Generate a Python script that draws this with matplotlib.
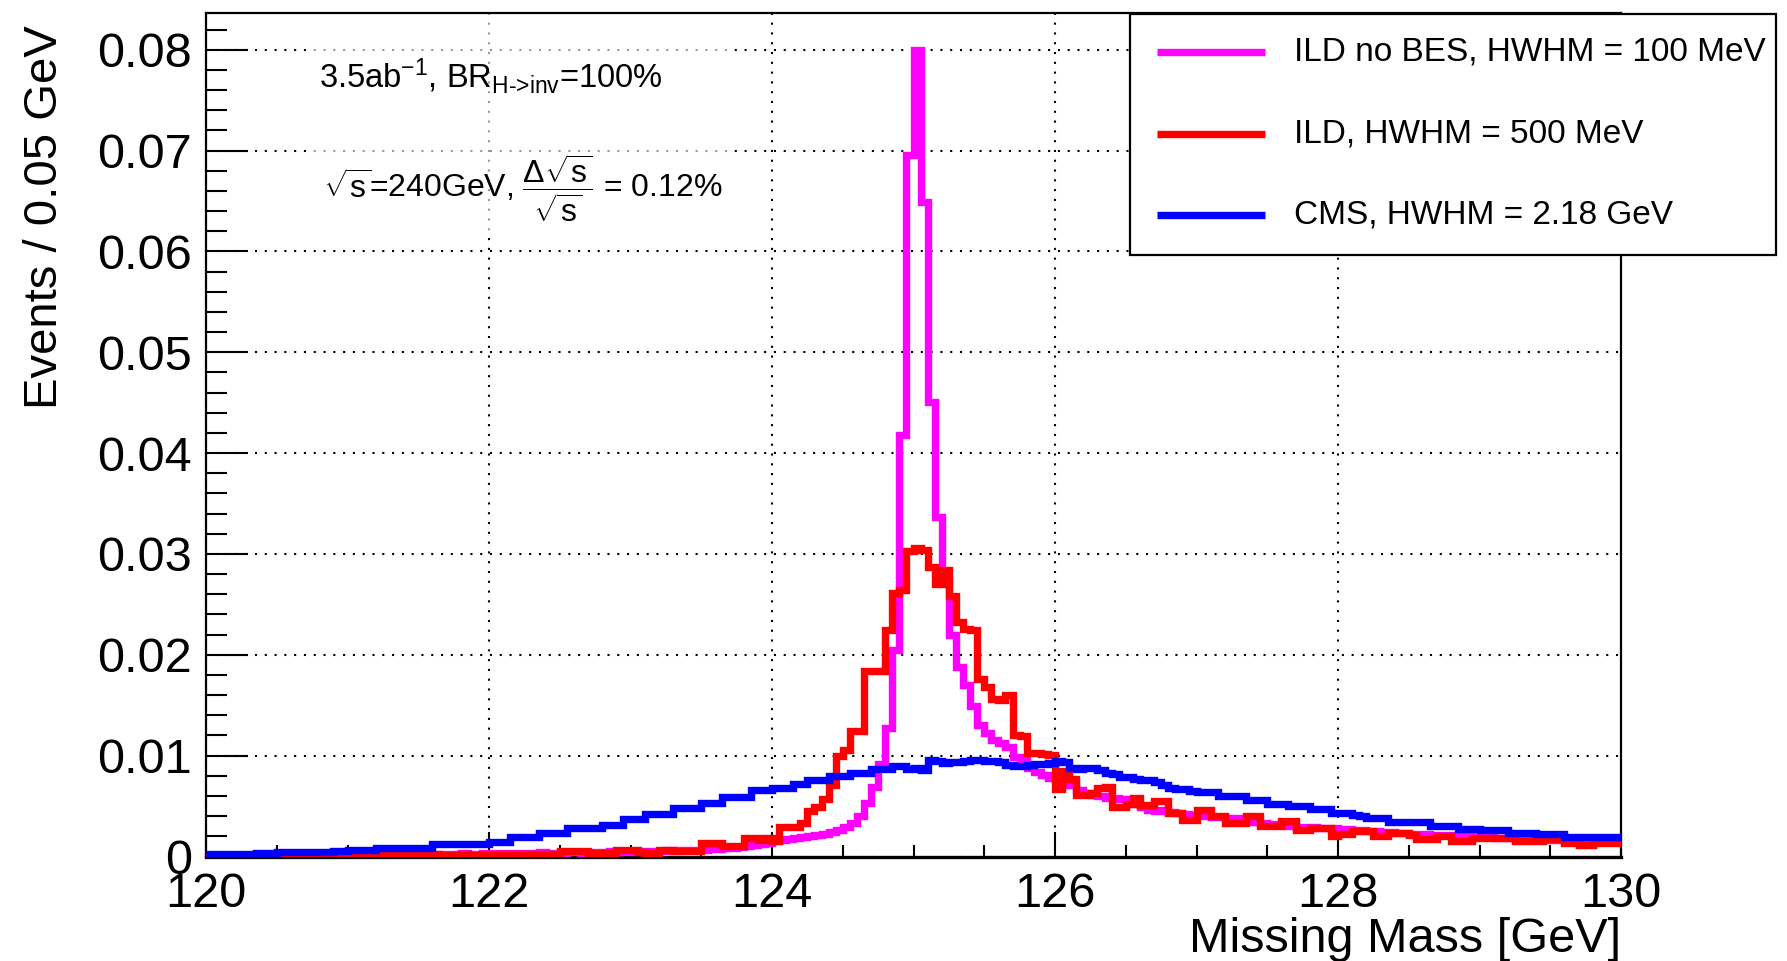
import numpy as np
import matplotlib
matplotlib.use("Agg")
import matplotlib.pyplot as plt
from matplotlib.patches import Rectangle
from matplotlib.lines import Line2D
from matplotlib.ticker import MultipleLocator, FuncFormatter

plt.rcParams['font.family'] = ['Liberation Sans', 'DejaVu Sans']
plt.rcParams['mathtext.fontset'] = 'custom'
plt.rcParams['mathtext.rm'] = 'Liberation Sans'
plt.rcParams['mathtext.it'] = 'Liberation Sans:italic'
plt.rcParams['mathtext.bf'] = 'Liberation Sans:bold'
plt.rcParams['mathtext.sf'] = 'Liberation Sans'

# binning : 120 -> 130 GeV, 0.05 GeV per bin (200 bins)
x_min, x_max, bin_w = 120.0, 130.0, 0.05

# ILD no BES (magenta), one row = 0.5 GeV
ild_nobes = [
    0.0000, 0.0000, 0.0001, 0.0000, 0.0000, 0.0001, 0.0000, 0.0001, 0.0001, 0.0000,
    0.0001, 0.0001, 0.0000, 0.0001, 0.0001, 0.0001, 0.0001, 0.0000, 0.0001, 0.0001,
    0.0001, 0.0001, 0.0001, 0.0002, 0.0001, 0.0001, 0.0002, 0.0001, 0.0002, 0.0002,
    0.0002, 0.0001, 0.0002, 0.0002, 0.0002, 0.0002, 0.0003, 0.0002, 0.0002, 0.0003,
    0.0002, 0.0003, 0.0003, 0.0002, 0.0003, 0.0003, 0.0003, 0.0004, 0.0003, 0.0003,
    0.0003, 0.0004, 0.0004, 0.0003, 0.0004, 0.0004, 0.0004, 0.0005, 0.0004, 0.0004,
    0.0005, 0.0004, 0.0005, 0.0005, 0.0005, 0.0006, 0.0005, 0.0006, 0.0006, 0.0006,
    0.0006, 0.0007, 0.0007, 0.0008, 0.0008, 0.0009, 0.0010, 0.0011, 0.0012, 0.0013,
    0.0015, 0.0016, 0.0017, 0.0018, 0.0019, 0.0020, 0.0021, 0.0022, 0.0024, 0.0026,
    0.0029, 0.0033, 0.0040, 0.0053, 0.0069, 0.0092, 0.0127, 0.0205, 0.0418, 0.0696,
    0.0800, 0.0649, 0.0451, 0.0337, 0.0275, 0.0220, 0.0188, 0.0170, 0.0149, 0.0130,
    0.0122, 0.0116, 0.0113, 0.0109, 0.0099, 0.0096, 0.0088, 0.0084, 0.0081, 0.0078,
    0.0076, 0.0073, 0.0071, 0.0066, 0.0063, 0.0061, 0.0060, 0.0058, 0.0058, 0.0057,
    0.0055, 0.0052, 0.0049, 0.0046, 0.0045, 0.0046, 0.0044, 0.0043, 0.0042, 0.0041,
    0.0041, 0.0040, 0.0039, 0.0039, 0.0038, 0.0038, 0.0037, 0.0035, 0.0034, 0.0033,
    0.0032, 0.0032, 0.0031, 0.0030, 0.0029, 0.0029, 0.0029, 0.0028, 0.0028, 0.0028,
    0.0027, 0.0027, 0.0026, 0.0026, 0.0025, 0.0025, 0.0024, 0.0024, 0.0023, 0.0023,
    0.0022, 0.0022, 0.0022, 0.0021, 0.0021, 0.0021, 0.0020, 0.0020, 0.0020, 0.0019,
    0.0019, 0.0019, 0.0018, 0.0018, 0.0018, 0.0017, 0.0017, 0.0017, 0.0017, 0.0016,
    0.0016, 0.0016, 0.0016, 0.0015, 0.0015, 0.0015, 0.0015, 0.0014, 0.0014, 0.0014,
]

# ILD (red)
ild = [
    0.0000, 0.0000, 0.0000, 0.0001, 0.0000, 0.0000, 0.0000, 0.0001, 0.0000, 0.0000,
    0.0000, 0.0001, 0.0000, 0.0000, 0.0001, 0.0000, 0.0001, 0.0000, 0.0001, 0.0000,
    0.0001, 0.0000, 0.0001, 0.0001, 0.0000, 0.0001, 0.0001, 0.0001, 0.0000, 0.0001,
    0.0001, 0.0001, 0.0002, 0.0001, 0.0001, 0.0001, 0.0002, 0.0001, 0.0001, 0.0002,
    0.0001, 0.0002, 0.0001, 0.0002, 0.0002, 0.0001, 0.0002, 0.0002, 0.0001, 0.0002,
    0.0005, 0.0005, 0.0005, 0.0005, 0.0003, 0.0003, 0.0003, 0.0003, 0.0006, 0.0006,
    0.0006, 0.0004, 0.0003, 0.0003, 0.0006, 0.0006, 0.0005, 0.0005, 0.0005, 0.0005,
    0.0013, 0.0013, 0.0013, 0.0010, 0.0010, 0.0010, 0.0018, 0.0018, 0.0016, 0.0018,
    0.0015, 0.0029, 0.0029, 0.0029, 0.0033, 0.0045, 0.0049, 0.0057, 0.0071, 0.0100,
    0.0106, 0.0124, 0.0124, 0.0184, 0.0184, 0.0184, 0.0225, 0.0261, 0.0264, 0.0303,
    0.0306, 0.0304, 0.0287, 0.0270, 0.0284, 0.0258, 0.0233, 0.0226, 0.0225, 0.0176,
    0.0168, 0.0156, 0.0155, 0.0160, 0.0120, 0.0119, 0.0103, 0.0103, 0.0102, 0.0101,
    0.0067, 0.0085, 0.0077, 0.0061, 0.0061, 0.0063, 0.0068, 0.0069, 0.0049, 0.0049,
    0.0052, 0.0058, 0.0051, 0.0051, 0.0055, 0.0055, 0.0043, 0.0043, 0.0036, 0.0036,
    0.0046, 0.0046, 0.0040, 0.0040, 0.0033, 0.0033, 0.0033, 0.0040, 0.0040, 0.0030,
    0.0030, 0.0030, 0.0035, 0.0035, 0.0026, 0.0026, 0.0028, 0.0028, 0.0028, 0.0020,
    0.0022, 0.0022, 0.0025, 0.0025, 0.0025, 0.0020, 0.0020, 0.0023, 0.0023, 0.0023,
    0.0021, 0.0017, 0.0017, 0.0017, 0.0020, 0.0020, 0.0015, 0.0015, 0.0015, 0.0018,
    0.0018, 0.0018, 0.0018, 0.0018, 0.0018, 0.0015, 0.0015, 0.0015, 0.0015, 0.0017,
    0.0017, 0.0017, 0.0013, 0.0013, 0.0011, 0.0011, 0.0013, 0.0013, 0.0013, 0.0013,
]

# CMS (blue)
cms = [
    0.0002, 0.0002, 0.0002, 0.0002, 0.0002, 0.0002, 0.0002, 0.0003, 0.0003, 0.0003,
    0.0004, 0.0004, 0.0004, 0.0004, 0.0004, 0.0004, 0.0004, 0.0004, 0.0005, 0.0005,
    0.0006, 0.0006, 0.0006, 0.0006, 0.0008, 0.0008, 0.0008, 0.0008, 0.0008, 0.0008,
    0.0008, 0.0008, 0.0012, 0.0012, 0.0012, 0.0012, 0.0012, 0.0012, 0.0012, 0.0012,
    0.0014, 0.0014, 0.0014, 0.0019, 0.0019, 0.0019, 0.0019, 0.0023, 0.0023, 0.0023,
    0.0023, 0.0028, 0.0028, 0.0028, 0.0028, 0.0028, 0.0031, 0.0031, 0.0031, 0.0037,
    0.0037, 0.0037, 0.0042, 0.0042, 0.0042, 0.0042, 0.0048, 0.0048, 0.0048, 0.0048,
    0.0053, 0.0053, 0.0053, 0.0059, 0.0059, 0.0059, 0.0059, 0.0066, 0.0066, 0.0066,
    0.0068, 0.0068, 0.0068, 0.0072, 0.0072, 0.0076, 0.0076, 0.0076, 0.0080, 0.0080,
    0.0080, 0.0083, 0.0083, 0.0083, 0.0087, 0.0087, 0.0087, 0.0090, 0.0090, 0.0087,
    0.0088, 0.0086, 0.0096, 0.0095, 0.0093, 0.0094, 0.0094, 0.0095, 0.0096, 0.0096,
    0.0095, 0.0095, 0.0094, 0.0091, 0.0090, 0.0090, 0.0091, 0.0092, 0.0092, 0.0093,
    0.0095, 0.0094, 0.0088, 0.0087, 0.0088, 0.0088, 0.0086, 0.0083, 0.0082, 0.0079,
    0.0079, 0.0077, 0.0076, 0.0076, 0.0074, 0.0071, 0.0068, 0.0067, 0.0067, 0.0065,
    0.0064, 0.0064, 0.0064, 0.0060, 0.0060, 0.0060, 0.0060, 0.0056, 0.0056, 0.0056,
    0.0052, 0.0052, 0.0052, 0.0050, 0.0050, 0.0050, 0.0047, 0.0047, 0.0047, 0.0043,
    0.0043, 0.0043, 0.0041, 0.0040, 0.0038, 0.0038, 0.0038, 0.0034, 0.0034, 0.0034,
    0.0034, 0.0034, 0.0034, 0.0030, 0.0030, 0.0030, 0.0030, 0.0027, 0.0027, 0.0027,
    0.0026, 0.0026, 0.0026, 0.0026, 0.0023, 0.0023, 0.0023, 0.0023, 0.0022, 0.0022,
    0.0022, 0.0022, 0.0019, 0.0019, 0.0019, 0.0019, 0.0019, 0.0019, 0.0019, 0.0019,
]

labels = ['ILD no BES, HWHM = 100 MeV', 'ILD, HWHM = 500 MeV', 'CMS, HWHM = 2.18 GeV']
colors = ['#ff00ff', '#ff0000', '#0000ff']
x_ticks = [120, 122, 124, 126, 128, 130]
y_ticks = [0, 0.01, 0.02, 0.03, 0.04, 0.05, 0.06, 0.07, 0.08]

W, H = 1787, 961
fig = plt.figure(figsize=(W / 100, H / 100), dpi=100)

# axes frame in pixels
ax_l, ax_r, ax_t, ax_b = 206, 1621, 12.7, 856.5
ax = fig.add_axes([ax_l / W, 1 - ax_b / H, (ax_r - ax_l) / W, (ax_b - ax_t) / H])

edges = x_min + bin_w * np.arange(len(cms) + 1)
lw = 5.3
for vals, col, z in zip([ild_nobes, ild, cms], colors, [3, 4, 5]):
    ax.stairs(vals, edges, baseline=None, color=col, linewidth=lw,
              joinstyle='miter', zorder=z)

ax.set_xlim(x_min, x_max)
ax.set_ylim(0, 0.08367)

ax.set_xticks(x_ticks)
ax.set_yticks(y_ticks)
ax.xaxis.set_minor_locator(MultipleLocator(0.5))
ax.yaxis.set_minor_locator(MultipleLocator(0.002))
ax.yaxis.set_major_formatter(FuncFormatter(lambda v, p: '0' if v == 0 else f'{v:.2f}'))

ax.tick_params(which='both', direction='in', top=False, right=False, width=1.5)
ax.tick_params(axis='x', which='major', length=18, labelsize=35, pad=11)
ax.tick_params(axis='x', which='minor', length=9)
ax.tick_params(axis='y', which='major', length=30, labelsize=35, pad=10)
ax.tick_params(axis='y', which='minor', length=15)

for sp in ax.spines.values():
    sp.set_linewidth(1.6)
ax.spines['bottom'].set_linewidth(2.4)

ax.set_axisbelow(True)
ax.grid(True, which='major', color='black', linestyle=(0, (1, 3.7)), linewidth=1.5)

# light box behind the annotation text
ax.add_patch(Rectangle(((307 - ax_l) / (ax_r - ax_l), (ax_b - 235) / (ax_b - ax_t)),
                       (733 - 307) / (ax_r - ax_l), (235 - ax_t) / (ax_b - ax_t),
                       transform=ax.transAxes, facecolor='white', edgecolor='none',
                       alpha=0.6, zorder=1))

ax.text((319 - ax_l) / (ax_r - ax_l), (ax_b - 88) / (ax_b - ax_t),
        r'3.5ab$^{-1}$, BR$_{\text{H->inv}}$=100%',
        transform=ax.transAxes, fontsize=23.5, ha='left', va='baseline', zorder=6)
ax.text((323 - ax_l) / (ax_r - ax_l), (ax_b - 188) / (ax_b - ax_t),
        r'$\sqrt{\mathrm{s}}$=240GeV, $\dfrac{\Delta\sqrt{\mathrm{s}}}{\sqrt{\mathrm{s}}}$ = 0.12%',
        transform=ax.transAxes, fontsize=23, ha='left', va='center', zorder=6)

# axis titles, ROOT style (right / top aligned)
fig.text(ax_r / W, 1 - 951.6 / H, 'Missing Mass [GeV]', fontsize=35,
         ha='right', va='baseline')
fig.text(45 / W, 1 - 25 / H, 'Events / 0.05 GeV', fontsize=34,
         rotation=90, ha='center', va='top')

# legend box
lx0, ly0, lx1, ly1 = 1130, 14, 1776, 255
fig.add_artist(Rectangle((lx0 / W, 1 - ly1 / H), (lx1 - lx0) / W, (ly1 - ly0) / H,
                         transform=fig.transFigure, facecolor='white',
                         edgecolor='black', linewidth=1.6, zorder=10))
for lab, col, yy in zip(labels, colors, [52, 134, 215]):
    fig.add_artist(Line2D([1157 / W, 1265 / W], [1 - yy / H, 1 - yy / H],
                          transform=fig.transFigure, color=col, linewidth=lw,
                          solid_capstyle='butt', zorder=11))
    fig.text(1294 / W, 1 - yy / H, lab, fontsize=24, ha='left', va='center',
             zorder=11)

fig.savefig('out.png', dpi=100)
